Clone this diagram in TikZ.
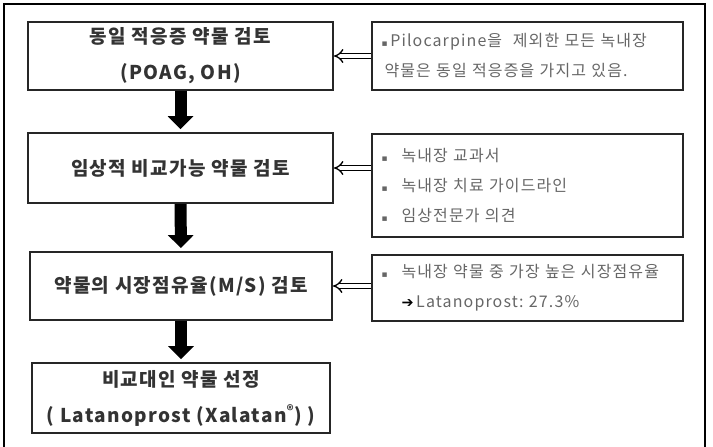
\documentclass[tikz,border=0pt]{standalone}
\usepackage{fontspec}
\setmainfont{Noto Sans CJK KR}
\newfontfamily\symfont{DejaVu Sans}
\newfontfamily\spacedfont[LetterSpace=7]{Noto Sans CJK KR}
\usetikzlibrary{arrows.meta, positioning}

\begin{document}
\begin{tikzpicture}[x=1pt, y=-1pt,
  stepbox/.style={draw=black!85, line width=1.8pt, minimum width=305pt, align=center,
    font=\spacedfont\fontsize{19}{36}\selectfont\bfseries, text=black!80},
  note/.style={draw=black!85, line width=1.8pt, minimum width=311pt, text width=292pt,
    align=left, font=\spacedfont\fontsize{16}{30}\selectfont, text=black!60},
  flow/.style={line width=12pt, -{Triangle[width=25pt, length=13pt]}, shorten >=3pt},
  refer/.style={double=white, double distance=3.5pt, line width=1.3pt,
    -{Implies[length=8pt, width=17pt]}}
]
\useasboundingbox (0,0) rectangle (713,447);

% outer frame (bottom edge cut off)
\draw[line width=1.8pt] (4,447) -- (4,4) -- (705,4) -- (705,447);

\node[stepbox, minimum height=68pt] (same) at (180.5,56) {동일 적응증 약물 검토\\(POAG, OH)};
\node[stepbox, minimum height=70pt] (clin) at (180.5,168) {임상적 비교가능 약물 검토};
\node[stepbox, minimum height=68pt, minimum width=302pt] (share) at (181,286) {약물의 시장점유율(M/S) 검토};
\node[stepbox, minimum height=70pt, minimum width=298pt] (select) at (181,398)
  {비교대인 약물 선정\\( Latanoprost (Xalatan\textsuperscript{®}) )};

\node[note, minimum height=68pt] (ind) at (527.5,56)
  {{\symfont\small ▪}\,Pilocarpine을~ 제외한 모든 녹내장\\\hspace*{3pt}약물은 동일 적응증을 가지고 있음.};
\node[note, minimum height=103pt] (src) at (527.5,185.5)
  {\makebox[20pt][l]{\symfont\small ▪}녹내장 교과서\\
   \makebox[20pt][l]{\symfont\small ▪}녹내장 치료 가이드라인\\
   \makebox[20pt][l]{\symfont\small ▪}임상전문가 의견};
\node[note, minimum height=66pt] (ms) at (527.5,288)
  {\makebox[20pt][l]{\symfont\small ▪}녹내장 약물 중 가장 높은 시장점유율\\
   \hspace*{20pt}{\symfont\Large\color{black}➔}\,Latanoprost:~27.3\%};

% main flow
\draw[flow] (same) -- (clin);
\draw[flow] (clin) -- (share);
\draw[flow] (share) -- (select);

% supporting evidence
\draw[refer] (ind.west) -- (same.east);
\draw[refer] (src.west |- clin.east) -- (clin.east);
\draw[refer] (ms.west |- share.east) -- (share.east);

\end{tikzpicture}
\end{document}
